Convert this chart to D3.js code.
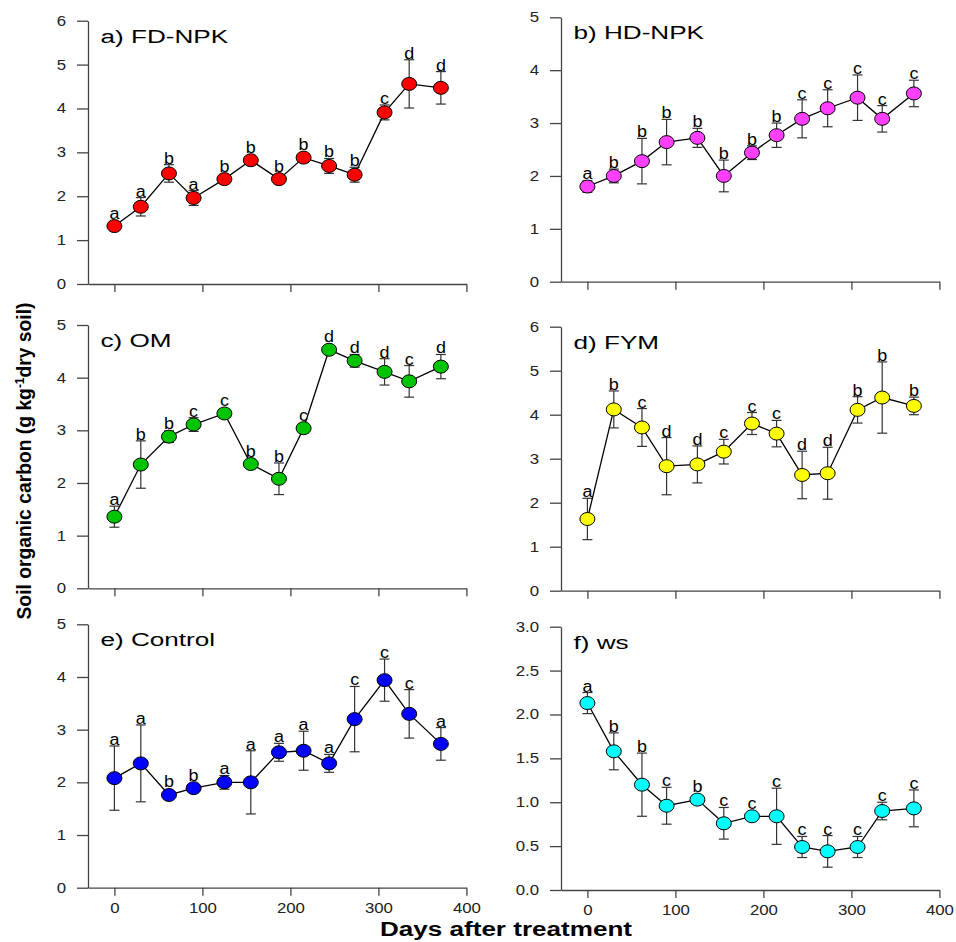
<!DOCTYPE html>
<html>
<head>
<meta charset="utf-8">
<script src="https://cdn.jsdelivr.net/npm/d3@7"></script>
<style>
  body { margin: 0; background: #fff; }
  text { font-family: "Liberation Sans", Arial, sans-serif; }
</style>
</head>
<body>
<div id="chart"></div>
<script>
// sampling days (shared by all panels)
const days = [0, 30, 62, 90, 125, 155, 187, 215, 244, 273, 307, 335, 371];

// a) FD-NPK
const fdMean = [1.32, 1.76, 2.52, 1.96, 2.39, 2.82, 2.39, 2.88, 2.69, 2.49, 3.91, 4.56, 4.47];
const fdErr = [0.05, 0.21, 0.20, 0.17, 0.06, 0.06, 0.06, 0.06, 0.17, 0.17, 0.17, 0.55, 0.37];
const fdLetters = ['a', 'a', 'b', 'a', 'b', 'b', 'b', 'b', 'b', 'b', 'c', 'd', 'd'];

// b) HD-NPK
const hdMean = [1.80, 2.00, 2.28, 2.64, 2.72, 2.00, 2.44, 2.77, 3.08, 3.28, 3.48, 3.08, 3.56];
const hdErr = [0.11, 0.13, 0.43, 0.43, 0.18, 0.30, 0.13, 0.23, 0.36, 0.35, 0.43, 0.25, 0.25];
const hdLetters = ['a', 'b', 'b', 'b', 'b', 'b', 'b', 'b', 'c', 'c', 'c', 'c', 'c'];

// c) OM
const omMean = [1.36, 2.35, 2.88, 3.11, 3.32, 2.36, 2.08, 3.04, 4.53, 4.32, 4.11, 3.93, 4.21];
const omErr = [0.20, 0.45, 0.11, 0.13, 0.05, 0.05, 0.30, 0.05, 0.05, 0.12, 0.25, 0.30, 0.23];
const omLetters = ['a', 'b', 'b', 'c', 'c', 'b', 'b', 'c', 'd', 'd', 'd', 'c', 'd'];

// d) FYM
const fymMean = [1.63, 4.12, 3.71, 2.83, 2.87, 3.16, 3.80, 3.57, 2.63, 2.67, 4.11, 4.39, 4.20];
const fymErr = [0.47, 0.42, 0.43, 0.65, 0.42, 0.28, 0.25, 0.30, 0.54, 0.59, 0.30, 0.81, 0.20];
const fymLetters = ['a', 'b', 'c', 'd', 'd', 'c', 'c', 'c', 'd', 'd', 'b', 'b', 'b'];

// e) Control
const ctrlMean = [2.08, 2.36, 1.76, 1.89, 2.00, 2.00, 2.57, 2.60, 2.36, 3.20, 3.94, 3.30, 2.73];
const ctrlErr = [0.61, 0.73, 0.05, 0.05, 0.13, 0.60, 0.17, 0.37, 0.17, 0.62, 0.40, 0.46, 0.31];
const ctrlLetters = ['a', 'a', 'b', 'b', 'a', 'a', 'a', 'a', 'a', 'c', 'c', 'c', 'a'];

// f) ws
const wsMean = [2.13, 1.58, 1.20, 0.96, 1.03, 0.76, 0.84, 0.84, 0.49, 0.44, 0.49, 0.90, 0.93];
const wsErr = [0.12, 0.21, 0.36, 0.21, 0.03, 0.18, 0.03, 0.32, 0.12, 0.18, 0.12, 0.10, 0.21];
const wsLetters = ['a', 'b', 'b', 'c', 'b', 'c', 'c', 'c', 'c', 'c', 'c', 'c', 'c'];

const xTicks = [0, 100, 200, 300, 400];

const panels = [
  { title: 'a) FD-NPK', mean: fdMean, err: fdErr, letters: fdLetters, yMax: 6, yStep: 1, fill: '#ff0000', col: 0, top: 20.7, bottom: 284 },
  { title: 'b) HD-NPK', mean: hdMean, err: hdErr, letters: hdLetters, yMax: 5, yStep: 1, fill: '#ff40ff', col: 1, top: 17.3, bottom: 281.7 },
  { title: 'c) OM', mean: omMean, err: omErr, letters: omLetters, yMax: 5, yStep: 1, fill: '#00c400', col: 0, top: 325, bottom: 588.3 },
  { title: 'd) FYM', mean: fymMean, err: fymErr, letters: fymLetters, yMax: 6, yStep: 1, fill: '#ffff00', col: 1, top: 326.7, bottom: 590.7 },
  { title: 'e) Control', mean: ctrlMean, err: ctrlErr, letters: ctrlLetters, yMax: 5, yStep: 1, fill: '#0000ff', col: 0, top: 624.3, bottom: 887.7, labels: true },
  { title: 'f) ws', mean: wsMean, err: wsErr, letters: wsLetters, yMax: 3, yStep: 0.5, fmt: '.1f', fill: '#00ffff', col: 1, top: 626.7, bottom: 890, labels: true }
];

const W = 956, H = 942;
const colX = [88, 561];
const rx = 7.5, ry = 6.5;

const svg = d3.select('#chart').append('svg')
  .attr('width', W)
  .attr('height', H);

// widen glyphs like the original export
const stretch = (sel, k) => {
  sel.each(function () {
    const w = this.getComputedTextLength();
    d3.select(this).attr('textLength', w * k).attr('lengthAdjust', 'spacingAndGlyphs');
  });
};

panels.forEach((p) => {
  const x0 = colX[p.col];
  const x = d3.scaleLinear().domain([-30, 400]).range([x0, x0 + 378.4]);
  const y = d3.scaleLinear().domain([0, p.yMax]).range([p.bottom, p.top]);
  const data = days.map((d, i) => ({ day: d, m: p.mean[i], e: p.err[i], l: p.letters[i] }));

  const g = svg.append('g');

  // axes
  const xa = g.append('g')
    .attr('transform', `translate(0,${p.bottom})`)
    .call(d3.axisBottom(x).tickValues(xTicks).tickSize(8).tickSizeOuter(0).tickPadding(7)
      .tickFormat(p.labels ? d3.format('d') : () => ''));
  const ya = g.append('g')
    .attr('transform', `translate(${x0},0)`)
    .call(d3.axisLeft(y).ticks(p.yMax / p.yStep).tickSize(11).tickSizeOuter(0).tickPadding(11)
      .tickFormat(d3.format(p.fmt || 'd')));
  [xa, ya].forEach((a) => {
    a.selectAll('path, line').attr('stroke', '#444').attr('stroke-width', 1.3);
    a.selectAll('text').attr('fill', '#222').style('font-size', '14px');
    stretch(a.selectAll('text'), 1.2);
  });

  // error bars
  const eb = g.append('g').attr('stroke', '#333').attr('stroke-width', 1.2);
  eb.selectAll('.ev').data(data).enter().append('line')
    .attr('x1', (d) => x(d.day)).attr('x2', (d) => x(d.day))
    .attr('y1', (d) => y(d.m - d.e)).attr('y2', (d) => y(d.m + d.e));
  [1, -1].forEach((s) => {
    eb.selectAll(null).data(data).enter().append('line')
      .attr('x1', (d) => x(d.day) - 5).attr('x2', (d) => x(d.day) + 5)
      .attr('y1', (d) => y(d.m + s * d.e)).attr('y2', (d) => y(d.m + s * d.e));
  });

  // connecting line
  g.append('path')
    .datum(data)
    .attr('fill', 'none')
    .attr('stroke', '#000')
    .attr('stroke-width', 1.3)
    .attr('d', d3.line().x((d) => x(d.day)).y((d) => y(d.m)));

  // markers
  g.selectAll('.pt').data(data).enter().append('ellipse')
    .attr('cx', (d) => x(d.day)).attr('cy', (d) => y(d.m))
    .attr('rx', rx).attr('ry', ry)
    .attr('fill', p.fill).attr('stroke', '#000').attr('stroke-width', 1);

  // significance letters
  const lt = g.selectAll('.lt').data(data).enter().append('text')
    .attr('x', (d) => x(d.day))
    .attr('y', (d) => Math.min(y(d.m + d.e), y(d.m) - ry) - 1)
    .attr('text-anchor', 'middle')
    .style('font-size', '16px')
    .attr('fill', '#000')
    .text((d) => d.l);
  stretch(lt, 1.12);

  // panel title
  const t = g.append('text')
    .attr('x', x0 + 12.5)
    .attr('y', p.top + 22)
    .style('font-size', '18px')
    .attr('fill', '#000')
    .text(p.title);
  stretch(t, 1.45);
});

// axis titles
const xt = svg.append('text')
  .attr('x', 506).attr('y', 936)
  .attr('text-anchor', 'middle')
  .style('font-size', '19.5px').style('font-weight', 'bold')
  .text('Days after treatment');
xt.attr('textLength', 252).attr('lengthAdjust', 'spacingAndGlyphs');

const yt = svg.append('text')
  .attr('transform', 'translate(31,461) rotate(-90)')
  .attr('text-anchor', 'middle')
  .style('font-size', '21px').style('font-weight', 'bold')
  .attr('textLength', 317).attr('lengthAdjust', 'spacingAndGlyphs');
yt.append('tspan').text('Soil organic carbon (g kg');
yt.append('tspan').attr('dy', -7).style('font-size', '13px').text('-1');
yt.append('tspan').attr('dy', 7).text('dry soil)');
</script>
</body>
</html>
